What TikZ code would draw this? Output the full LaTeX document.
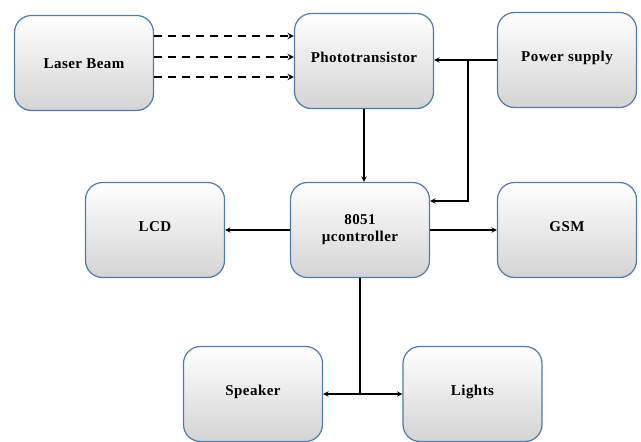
\documentclass[tikz,border=0pt]{standalone}
\usepackage{fontspec}
\setmainfont{Liberation Serif}[LetterSpace=3]
\usepackage{tikz}
\definecolor{boxblue}{RGB}{78,124,172}

\begin{document}
\begin{tikzpicture}
            [->, >=stealth, x=1pt, y=-1pt, line width=1.4pt,
             block/.style={shape=rectangle, rounded corners=17pt, draw=boxblue, line width=1.2pt,
                           top color=white, middle color=white!97!black, bottom color=black!17,
                           minimum width=139pt, minimum height=95pt,
                           font=\fontsize{15}{17}\selectfont\bfseries,
                           text height=10pt, text depth=8pt, align=center},
             beam/.style={dashed, dash pattern=on 8pt off 6pt, line width=1.8pt}]
            \useasboundingbox (0, 0) rectangle (641, 442);

            \node[block, text depth=0pt] (laser) at (84, 63) {Laser\ Beam};
            \node[block] (photo) at (364, 61) {Phototransistor};
            \node[block] (power) at (567, 60) {Power supply};
            \node[block] (lcd) at (155, 230) {LCD};
            \node[block, text height=, text depth=] (mcu) at (360, 230) {8051\\µcontroller};
            \node[block] (gsm) at (567, 230) {GSM};
            \node[block] (speaker) at (253, 394) {Speaker};
            \node[block] (lights) at (472.5, 394) {Lights};
            \coordinate (split) at (468, 60);
            \coordinate (fork) at (mcu.south |- speaker.east);

            \foreach \dy in {27, 6, -14}
                \path [->, beam] ([yshift=\dy pt]laser.east) edge ([yshift=\dy pt]laser.east -| photo.west);
            \path [->] (power.west) edge (power.west -| photo.east);
            \draw [->] (split) |- ([yshift=29pt]mcu.east);
            \path [->] (photo.south) edge (photo.south |- mcu.north);
            \path [->] (mcu.west) edge (lcd.east);
            \path [->] (mcu.east) edge (gsm.west);
            \draw [-] (mcu.south) -- (fork);
            \path [->] (fork) edge (speaker.east) edge (lights.west);
        \end{tikzpicture}
\end{document}
